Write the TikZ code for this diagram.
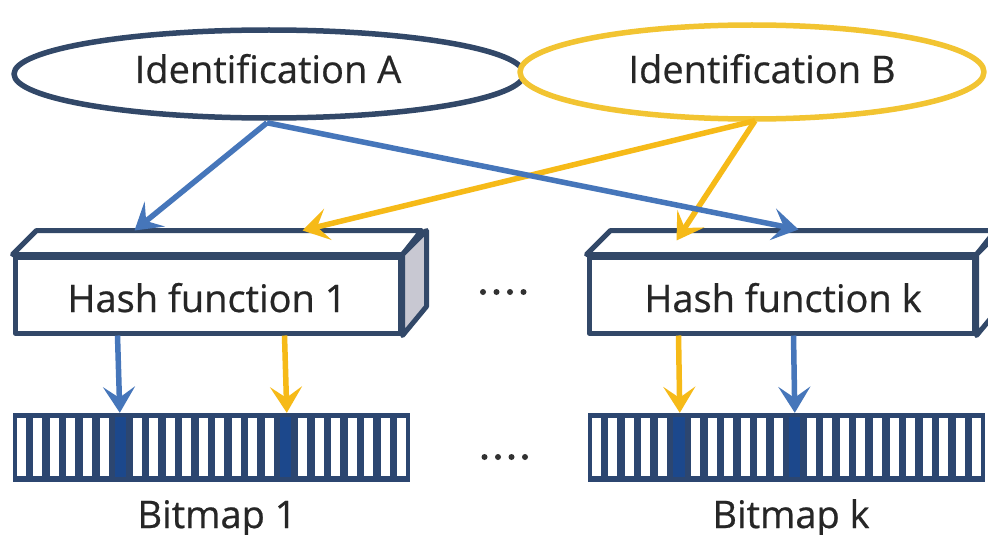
\documentclass[tikz,border=0pt]{standalone}
\usepackage{fontspec}
\setmainfont{Open Sans}
\newfontfamily\lblfont{Open Sans}[FakeBold=0.6]
\usetikzlibrary{shapes.geometric,arrows.meta,calc}

\definecolor{navy}{RGB}{50,72,104}
\definecolor{arrowblue}{RGB}{70,118,186}
\definecolor{arrowgold}{RGB}{246,186,24}
\definecolor{ringgold}{RGB}{242,196,50}
\definecolor{bitdark}{RGB}{44,70,112}
\definecolor{bitset}{RGB}{28,72,140}
\definecolor{sidegray}{RGB}{200,200,210}
\definecolor{dotgray}{RGB}{50,50,50}

\tikzset{
  idnode/.style={ellipse, line width=5.5pt, fill=white, inner sep=0pt},
  hashbox/.style={rectangle, draw=navy, line width=5pt, fill=white,
    minimum width=385pt, minimum height=76pt, inner sep=0pt},
  bitbox/.style={rectangle, fill=bitdark, minimum width=397pt,
    minimum height=69pt, inner sep=0pt},
  txt/.style={font=\lblfont\fontsize{38}{44}\selectfont, text=black!85, anchor=base, inner sep=0pt},
  link/.style={line width=5.5pt, -{Stealth[length=26pt,width=32pt,inset=11pt]}},
  bluelink/.style={link, draw=arrowblue},
  goldlink/.style={link, draw=arrowgold},
  dotmark/.style={circle, fill=dotgray, minimum size=6pt, inner sep=0pt},
}

\begin{document}
\begin{tikzpicture}[x=1pt, y=-1pt, line join=round]
\useasboundingbox (0,0) rectangle (988,535);
\clip (0,0) rectangle (988,535);
\fill[white] (0,0) rectangle (988,535);

% hash function boxes: front faces, top faces and side faces
\node[hashbox] (h1) at (207.5,295) {};
\node[hashbox] (hk) at (781.5,295) {};
\foreach \h in {h1,hk}{
  \draw[navy, line width=5pt, fill=white]
    (\h.north west) -- ++(24,-24) -- ++(385,0) -- (\h.north east) -- cycle;
}
\draw[navy, line width=5pt, fill=sidegray]
  (h1.north east) -- ++(24,-24) -- ++(0,76) -- (h1.south east) -- cycle;
\draw[navy, line width=5pt, fill=white]
  (hk.north east) -- ++(24,-24) -- ++(0,76) -- (hk.south east) -- cycle;
\node[txt] (h1t) at (207,312) {Hash function 1};
\node[txt] (hkt) at (783,312) {Hash function k};

% bitmaps: 24 cells each, set cells filled
\node[bitbox] (b1) at (211.5,447.5) {};
\node[bitbox] (bk) at (786.5,447.5) {};
\foreach \b/\s/\t in {b1/6/16, bk/5/12}{
  \foreach \i in {0,...,23}{
    \ifnum\i=\s\relax
      \fill[bitset] ($(\b.north west)+(\i*16.54+2.5,4.5)$) rectangle ++(11.5,60);
    \else\ifnum\i=\t\relax
      \fill[bitset] ($(\b.north west)+(\i*16.54+2.5,4.5)$) rectangle ++(11.5,60);
    \else
      \fill[white] ($(\b.north west)+(\i*16.54+4,5.5)$) rectangle ++(9,58);
    \fi\fi
  }
}
\node[txt] (b1t) at (217,528) {Bitmap 1};
\node[txt] (bkt) at (791,528) {Bitmap k};

% ellipsis marks between the two columns
\foreach \x [count=\n] in {483,496.5,510,523.5}{
  \node[dotmark] (du\n) at (\x,292) {};
  \node[dotmark] (dl\n) at (\x+1.5,457) {};
}

% identifications
\node[idnode, draw=navy, minimum width=510pt, minimum height=88pt] (A) at (269,74) {};
\node[idnode, draw=ringgold, minimum width=464pt, minimum height=94pt] (B) at (752,72) {};
\node[txt] (At) at (268,83) {Identification A};
\node[txt] (Bt) at (762,83) {Identification B};

% arrow end points on the hash boxes and bitmaps
\coordinate (h1a) at ($(h1.north west)+(122,-24)$);
\coordinate (h1b) at ($(h1.north west)+(290,-24)$);
\coordinate (hka) at ($(hk.north west)+(212,-25)$);
\coordinate (hkb) at ($(hk.north west)+(90,-14)$);
\coordinate (A0) at ($(A.south)+(-2,2)$);
\coordinate (B0) at ($(B.south)+(3,-1)$);

\draw[goldlink] (B0) -- (h1b);
\draw[goldlink] (B0) -- (hkb);
\draw[bluelink] (A0) -- (h1a);
\draw[bluelink] (A0) -- (hka);

\draw[bluelink] ($(h1.south west)+(105,0)$) -- ($(b1.north west)+(107,0)$);
\draw[goldlink] ($(h1.south west)+(272,0)$) -- ($(b1.north west)+(274,0)$);
\draw[goldlink] ($(hk.south west)+(92,0)$) -- ($(bk.north west)+(92,0)$);
\draw[bluelink] ($(hk.south west)+(207,0)$) -- ($(bk.north west)+(207,0)$);
\end{tikzpicture}
\end{document}
